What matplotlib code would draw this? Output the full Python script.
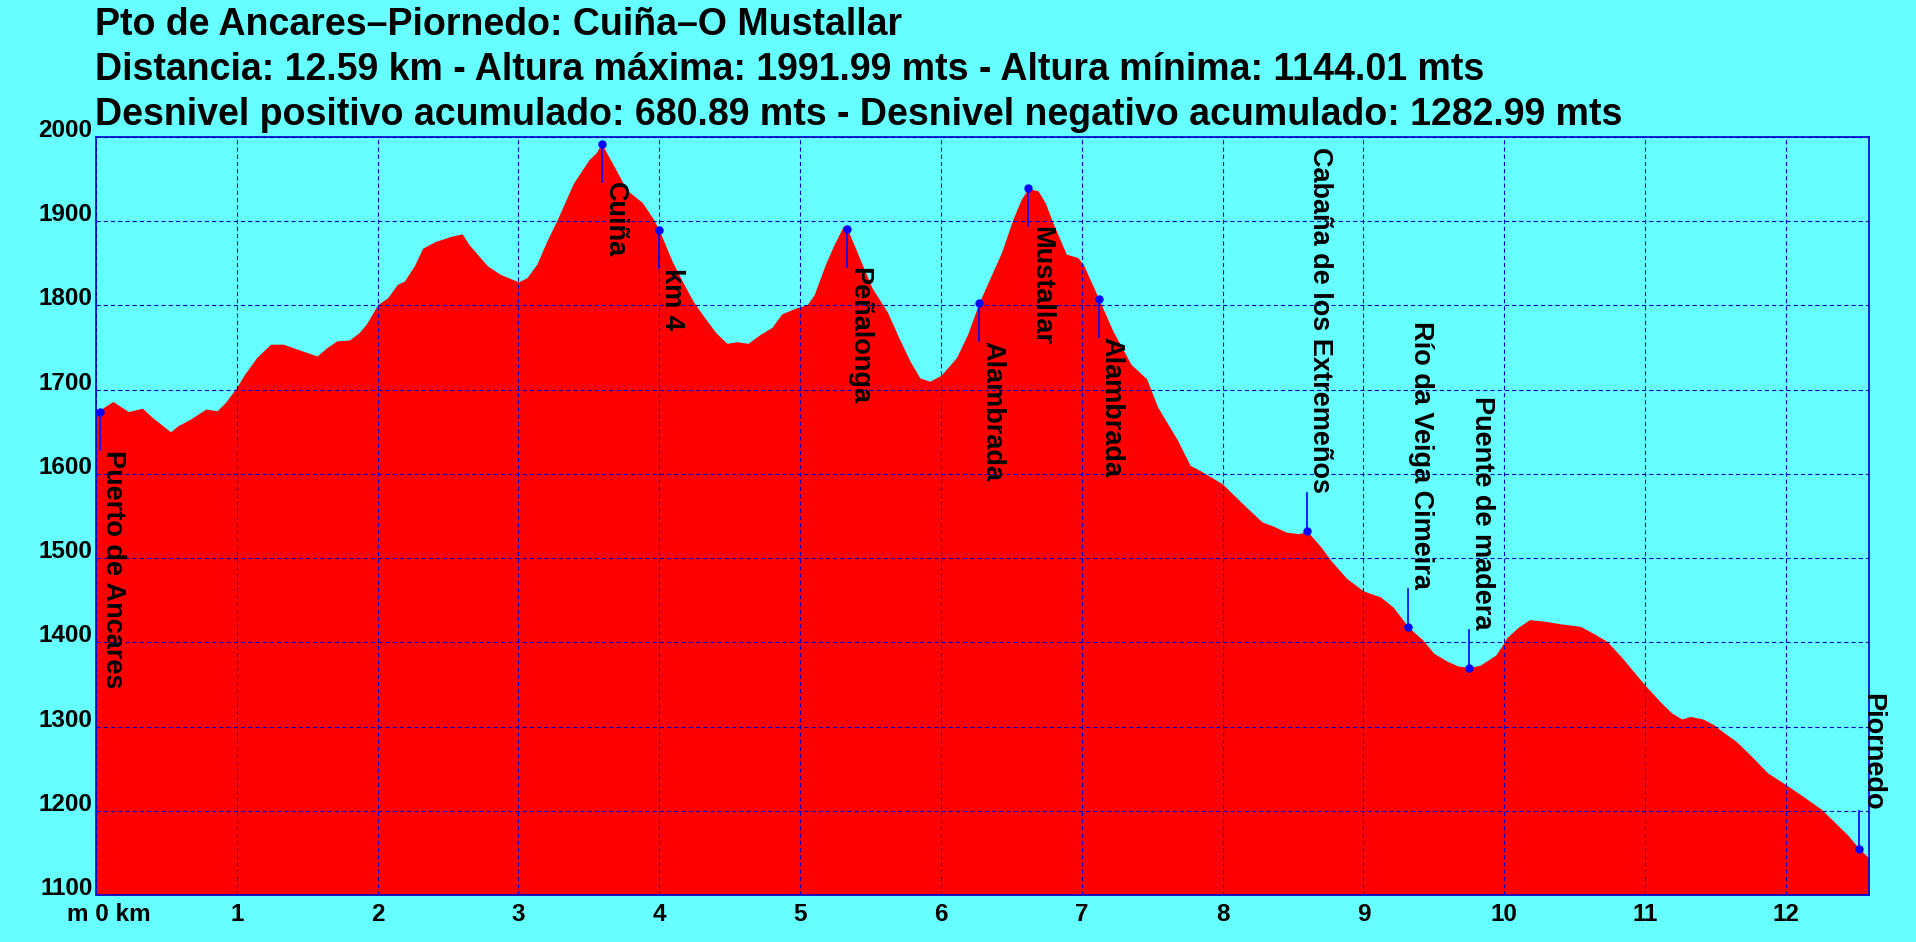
import matplotlib
matplotlib.use("Agg")
import matplotlib.pyplot as plt

plt.rcParams['font.family'] = ['Liberation Sans', 'DejaVu Sans']
plt.rcParams['font.weight'] = 'bold'
plt.rcParams['lines.scale_dashes'] = False

# Perfil: distancia (km) y altura (m)
dist_km = [0.00, 0.12, 0.23, 0.33, 0.40, 0.53, 0.58, 0.67, 0.78, 0.86, 0.92,
           1.00, 1.05, 1.14, 1.24, 1.33, 1.43, 1.57, 1.64, 1.71, 1.80, 1.87, 1.92,
           2.00, 2.07, 2.14, 2.19, 2.26, 2.32, 2.41, 2.52, 2.60, 2.65, 2.78, 2.87,
           3.00, 3.06, 3.13, 3.20, 3.27, 3.39, 3.50, 3.55, 3.59, 3.66, 3.77, 3.88, 3.96,
           4.00, 4.09, 4.15, 4.24, 4.32, 4.40, 4.48, 4.55, 4.63, 4.72, 4.80, 4.87, 4.97,
           5.05, 5.10, 5.18, 5.24, 5.31, 5.33, 5.41, 5.51, 5.62, 5.70, 5.78, 5.85, 5.92,
           6.00, 6.11, 6.19, 6.27, 6.35, 6.43, 6.51, 6.57, 6.62, 6.69, 6.74, 6.80, 6.89, 6.97,
           7.01, 7.12, 7.22, 7.35, 7.46, 7.54, 7.68, 7.77, 7.84,
           8.00, 8.14, 8.28, 8.36, 8.45, 8.54, 8.60, 8.69, 8.77, 8.88,
           9.00, 9.12, 9.21, 9.32, 9.42, 9.50, 9.59, 9.67, 9.75, 9.83, 9.94, 9.98,
           10.02, 10.10, 10.18, 10.29, 10.40, 10.54, 10.64, 10.73, 10.83, 10.94,
           11.00, 11.11, 11.19, 11.26, 11.32, 11.41, 11.49, 11.55, 11.65, 11.76, 11.87,
           12.00, 12.14, 12.25, 12.33, 12.44, 12.52, 12.59]
alt_m = [1673, 1686, 1674, 1678, 1667, 1650, 1657, 1665, 1677, 1675, 1685,
         1703, 1717, 1738, 1754, 1754, 1748, 1740, 1750, 1758, 1759, 1768, 1778,
         1801, 1809, 1825, 1829, 1847, 1868, 1876, 1882, 1885, 1872, 1847, 1837,
         1828, 1833, 1849, 1876, 1900, 1945, 1973, 1981, 1992, 1971, 1937, 1922, 1902,
         1889, 1853, 1833, 1805, 1786, 1768, 1755, 1757, 1755, 1766, 1774, 1790, 1797,
         1801, 1813, 1849, 1872, 1895, 1893, 1861, 1821, 1792, 1762, 1734, 1714, 1710,
         1717, 1738, 1766, 1803, 1833, 1863, 1902, 1926, 1939, 1936, 1922, 1896, 1861, 1857,
         1849, 1808, 1770, 1730, 1713, 1679, 1640, 1610, 1604,
         1588, 1565, 1543, 1538, 1531, 1529, 1532, 1515, 1497, 1476,
         1461, 1454, 1442, 1418, 1403, 1387, 1378, 1372, 1370, 1373, 1385, 1395,
         1406, 1418, 1427, 1425, 1422, 1419, 1410, 1401, 1383, 1361,
         1349, 1329, 1316, 1309, 1312, 1309, 1302, 1294, 1282, 1264, 1245,
         1231, 1215, 1202, 1189, 1171, 1155, 1144]

# Puntos de paso
wp_names = ["Puerto de Ancares", "Cuiña", "km 4", "Peñalonga", "Alambrada",
            "Mustallar", "Alambrada", "Cabaña de los Extremeños",
            "Río da Veiga Cimeira", "Puente de madera", "Piornedo"]
wp_km = [0.03, 3.59, 4.00, 5.33, 6.27, 6.62, 7.12, 8.60, 9.32, 9.75, 12.52]
wp_alt = [1673, 1992, 1889, 1891, 1803, 1939, 1808, 1532, 1418, 1370, 1155]
wp_up = [False, False, False, False, False, False, False, True, True, True, True]

title_lines = [
    "Pto de Ancares\u2013Piornedo: Cuiña\u2013O Mustallar",
    "Distancia: 12.59 km - Altura máxima: 1991.99 mts - Altura mínima: 1144.01 mts",
    "Desnivel positivo acumulado: 680.89 mts - Desnivel negativo acumulado: 1282.99 mts",
]
y_ticks = list(range(1100, 2001, 100))
x_ticks = list(range(0, 13))
x_labels = [""] + [str(k) for k in range(1, 13)]

BG = '#66FFFF'
BLUE = '#0000FF'
W, H = 1916, 942

fig = plt.figure(figsize=(W / 100, H / 100), dpi=100, facecolor=BG)
ax = fig.add_axes([96 / W, 47 / H, 1773 / W, 758 / H])
ax.set_facecolor(BG)

ax.fill_between(dist_km, alt_m, 1100, color='#FF0000', lw=0, zorder=1)
ax.set_xlim(0, 12.59)
ax.set_ylim(1100, 2000)
ax.set_axisbelow(False)
ax.grid(True, color='#0000C0', linestyle=(0, (3, 2.2)), linewidth=0.8)

for s in ax.spines.values():
    s.set_color('#0000CC')
    s.set_linewidth(1.2)
    s.set_zorder(5)

ax.set_yticks(y_ticks)
ax.set_xticks(x_ticks)
ax.set_xticklabels(x_labels)
ax.tick_params(axis='both', length=0, labelsize=17.5)
ax.tick_params(axis='y', pad=2.5)
ax.tick_params(axis='x', pad=6)
for t in ax.get_yticklabels():
    t.set_va('baseline')
    t.set_fontweight('bold')
for t in ax.get_xticklabels():
    t.set_fontweight('bold')

ax.annotate("m 0 km", xy=(0, 0), xycoords=('data', 'axes fraction'),
            xytext=(13, -8), textcoords='offset pixels',
            ha='center', va='top', fontsize=17.5, fontweight='bold')

# separación entre punto y texto (38 px)
gap = 38 / 758 * (2000 - 1100)
for name, xk, ya, up in zip(wp_names, wp_km, wp_alt, wp_up):
    if up:
        yt = ya + gap
        ha = 'right'
    else:
        yt = ya - gap
        ha = 'left'
    ax.plot([xk, xk], [ya, yt], color=BLUE, lw=1.2, zorder=4)
    ax.plot([xk], [ya], 'o', color=BLUE, ms=5, zorder=6)
    ax.text(xk, yt, name, rotation=-90, rotation_mode='anchor',
            ha=ha, va='bottom', fontsize=19.5, fontweight='bold', zorder=6)

for i, line in enumerate(title_lines):
    fig.text(95 / W, 1 - (35 + 45 * i) / H, line, ha='left', va='baseline',
             fontsize=27, fontweight='bold')

fig.savefig("out.png", dpi=100, facecolor=BG)
